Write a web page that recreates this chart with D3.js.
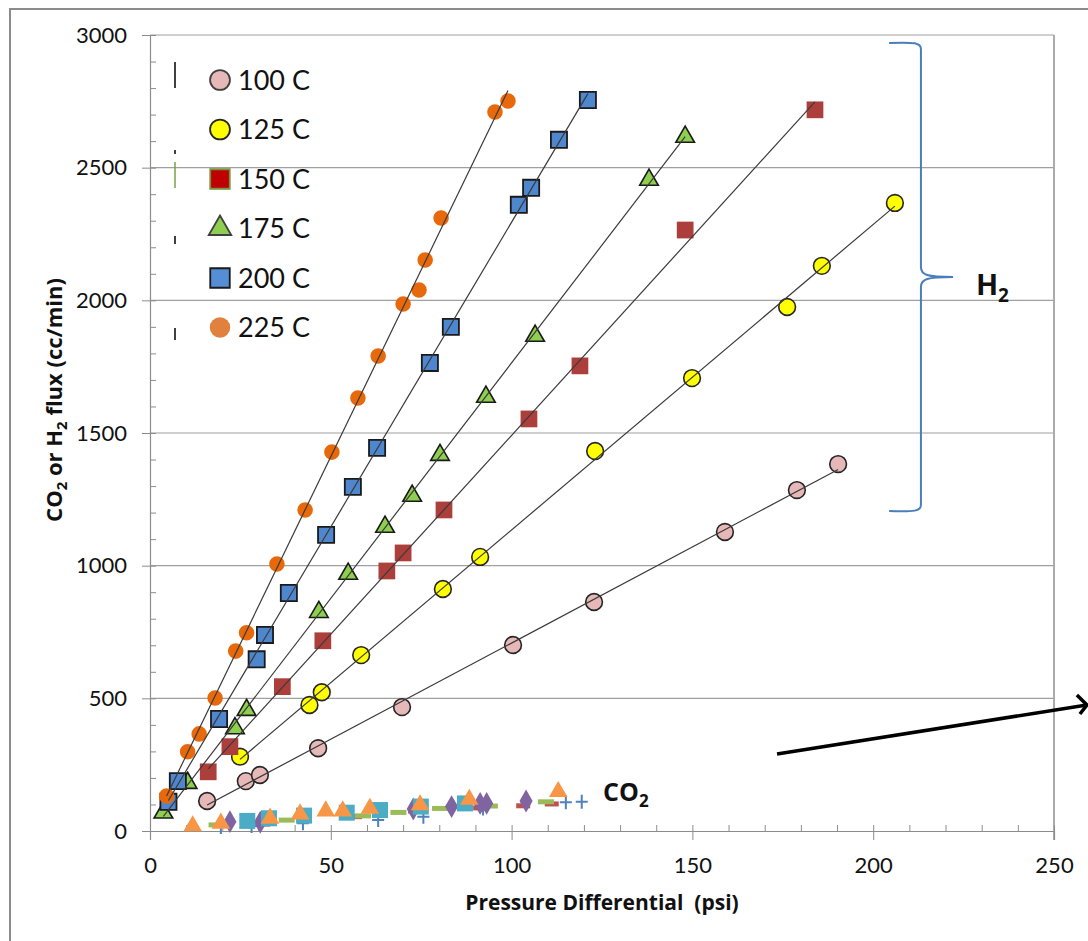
<!DOCTYPE html>
<html>
<head>
<meta charset="utf-8">
<script src="https://cdn.jsdelivr.net/npm/d3@7"></script>
<style>
  body { margin: 0; background: #fff; }
  text { font-family: Lato, "Open Sans", sans-serif; fill: #111; }
  text.bold { font-family: "Open Sans", sans-serif; font-weight: bold; }
</style>
</head>
<body>
<svg id="chart"></svg>
<script>
// H2 flux series (x = pressure differential psi, y = flux cc/min)
let labels = ["100 C", "125 C", "150 C", "175 C", "200 C", "225 C"];

let x100 = [15.8, 26.5, 30.4, 46.5, 69.7, 100.4, 122.8, 159.0, 178.9, 190.3];
let y100 = [113, 188, 211, 312, 467, 701, 863, 1127, 1285, 1383];

let x125 = [24.9, 44.1, 47.5, 58.4, 81.0, 91.3, 123.1, 149.9, 176.2, 185.8, 206.0];
let y125 = [280, 475, 523, 663, 912, 1033, 1432, 1707, 1975, 2130, 2367];

let x150 = [16.1, 22.1, 36.6, 47.8, 65.5, 70.0, 81.3, 104.8, 118.9, 148.0, 183.9];
let y150 = [223, 318, 544, 717, 980, 1048, 1210, 1553, 1753, 2265, 2718];

let x175 = [3.7, 10.4, 23.5, 26.7, 46.7, 54.8, 65.0, 72.5, 80.2, 92.9, 106.5, 138.0, 148.0];
let y175 = [69, 181, 387, 456, 825, 969, 1146, 1263, 1417, 1636, 1866, 2454, 2616];

let x200 = [5.1, 7.7, 19.1, 29.5, 31.8, 38.4, 48.7, 56.1, 62.8, 77.4, 83.2, 102.0, 105.4, 113.1, 121.1];
let y200 = [110, 188, 422, 647, 739, 897, 1116, 1297, 1444, 1764, 1900, 2360, 2424, 2605, 2755];

let x225 = [4.6, 10.4, 13.6, 18.0, 23.7, 26.7, 35.1, 42.9, 50.3, 57.5, 63.1, 70.0, 74.4, 76.1, 80.5, 95.4, 99.0];
let y225 = [132, 299, 366, 501, 678, 747, 1006, 1210, 1428, 1632, 1790, 1986, 2039, 2152, 2310, 2710, 2751];

// CO2 flux series (unlabelled markers near the bottom)
let co2TriX = [11.8, 19.6, 33.2, 41.5, 48.6, 53.3, 60.8, 74.7, 88.3, 112.9];
let co2TriY = [19, 29, 48, 64, 75, 75, 85, 98, 119, 148];
let co2SqX = [26.9, 32.9, 42.6, 54.4, 63.6, 74.9, 87.1];
let co2SqY = [38, 48, 58, 69, 79, 92, 104];
let co2DiaX = [22.1, 30.5, 72.8, 83.4, 91.3, 93.1, 104.0];
let co2DiaY = [35, 33, 83, 92, 104, 104, 113];
let co2DashX = [18.4, 37.8, 58.9, 68.7, 80.2, 94.0, 109.5];
let co2DashY = [23, 41, 57, 70, 85, 94, 110];
let co2RedX = [31.3, 56.7, 73.3, 91.3, 103.2, 111.1];
let co2RedY = [26, 54, 75, 87, 95, 102];
let co2PlusX = [19.6, 28.1, 42.3, 63.1, 75.6, 92.1, 115.0, 119.4];
let co2PlusY = [15, 19, 29, 41, 54, 85, 108, 110];

let xTicks = [0, 50, 100, 150, 200, 250];
let yTicks = [0, 500, 1000, 1500, 2000, 2500, 3000];

let W = 1088, H = 941;
let svg = d3.select("#chart").attr("width", W).attr("height", H);

let x = d3.scaleLinear().domain([0, 250]).range([150, 1054]);
let y = d3.scaleLinear().domain([0, 3000]).range([831, 35]);

// outer frame
svg.append("path")
  .attr("d", "M10," + (H + 5) + "V9H" + (W + 5))
  .attr("fill", "none").attr("stroke", "#8c8c8c").attr("stroke-width", 2);

// gridlines
svg.append("g").selectAll("line")
  .data(yTicks.filter(d => d > 0))
  .enter().append("line")
  .attr("x1", x(0)).attr("x2", x(250))
  .attr("y1", d => y(d)).attr("y2", d => y(d))
  .attr("stroke", "#a0a0a0").attr("stroke-width", 1.2);

// right border of plot
svg.append("line")
  .attr("x1", x(250)).attr("x2", x(250)).attr("y1", y(3000)).attr("y2", y(0) + 9)
  .attr("stroke", "#ababab").attr("stroke-width", 2);

// x axis: major ticks outside, minor ticks inside
let xAxis = svg.append("g").attr("transform", "translate(0," + y(0) + ")")
  .call(d3.axisBottom(x).tickValues(xTicks).tickSize(9).tickPadding(17));
xAxis.select(".domain").attr("stroke", "#8c8c8c").attr("stroke-width", 1.2);
xAxis.selectAll(".tick line").attr("stroke", "#8c8c8c");
xAxis.selectAll("text").attr("font-size", 22).attr("font-family", "Lato").attr("fill", "#111");
svg.append("g").attr("transform", "translate(0," + y(0) + ")")
  .call(d3.axisBottom(x).tickValues(d3.range(0, 251, 10)).tickSize(-6).tickFormat(""))
  .call(g => g.select(".domain").remove())
  .selectAll(".tick line").attr("stroke", "#8c8c8c");

// y axis
let yAxis = svg.append("g").attr("transform", "translate(" + x(0) + ",0)")
  .call(d3.axisLeft(y).tickValues(yTicks).tickFormat(d3.format("d")).tickSize(8).tickPadding(15));
yAxis.select(".domain").attr("stroke", "#8c8c8c").attr("stroke-width", 1.2);
yAxis.selectAll(".tick line").attr("stroke", "#8c8c8c");
yAxis.selectAll("text").attr("font-size", 22).attr("font-family", "Lato").attr("fill", "#111");
svg.append("g").attr("transform", "translate(" + x(0) + ",0)")
  .call(d3.axisLeft(y).tickValues(d3.range(0, 3001, 100)).tickSize(-6).tickFormat(""))
  .call(g => g.select(".domain").remove())
  .selectAll(".tick line").attr("stroke", "#8c8c8c");

// axis titles
svg.append("text").attr("class", "bold")
  .attr("x", 602).attr("y", 910)
  .attr("text-anchor", "middle").attr("font-size", 21)
  .text("Pressure Differential\u00a0 (psi)");

let yt = svg.append("text").attr("class", "bold")
  .attr("transform", "translate(62,400) rotate(-90)")
  .attr("text-anchor", "middle").attr("font-size", 22);
yt.append("tspan").text("CO");
yt.append("tspan").attr("font-size", 15).attr("dy", 5).text("2");
yt.append("tspan").attr("dy", -5).text(" or H");
yt.append("tspan").attr("font-size", 15).attr("dy", 5).text("2");
yt.append("tspan").attr("dy", -5).text(" flux (cc/min)");

// symbol generators
let sym = (type, size) => d3.symbol().type(type).size(size)();
let plusPath = "M-6,0H6M0,-7V7";

function drawMarks(xs, ys, path, fill, stroke, sw) {
  svg.append("g").selectAll("path")
    .data(d3.zip(xs, ys))
    .enter().append("path")
    .attr("transform", d => "translate(" + x(d[0]) + "," + y(d[1]) + ")")
    .attr("d", path)
    .attr("fill", fill)
    .attr("stroke", stroke)
    .attr("stroke-width", sw);
}

// CO2 markers
drawMarks(co2PlusX, co2PlusY, plusPath, "none", "#4f81bd", 2);
drawMarks(co2RedX, co2RedY, "M-7,-2.5H7V2.5H-7Z", "#c0504d", "none", 0);
drawMarks(co2DashX, co2DashY, "M-8,-2.5H8V2.5H-8Z", "#9bbb59", "none", 0);
drawMarks(co2DiaX, co2DiaY, sym(d3.symbolDiamond, 150), "#8064a2", "none", 0);
drawMarks(co2SqX, co2SqY, "M-8,-8H8V8H-8Z", "#4bacc6", "none", 0);
drawMarks(co2TriX, co2TriY, sym(d3.symbolTriangle, 150), "#f79646", "none", 0);

// H2 series
let h2 = [
  { xs: x100, ys: y100, path: sym(d3.symbolCircle, 220), fill: "#e6b9b8", stroke: "#262626", sw: 1.6 },
  { xs: x125, ys: y125, path: sym(d3.symbolCircle, 220), fill: "#ffff00", stroke: "#262626", sw: 1.6 },
  { xs: x150, ys: y150, path: sym(d3.symbolSquare, 280), fill: "#ac3f3c", stroke: "none", sw: 0 },
  { xs: x175, ys: y175, path: sym(d3.symbolTriangle, 150), fill: "#8fcf50", stroke: "#1a1a1a", sw: 1.6 },
  { xs: x200, ys: y200, path: sym(d3.symbolSquare, 260), fill: "#4f87cf", stroke: "#1a1a1a", sw: 1.8 },
  { xs: x225, ys: y225, path: sym(d3.symbolCircle, 190), fill: "#e8690b", stroke: "none", sw: 0 }
];
h2.forEach(s => drawMarks(s.xs, s.ys, s.path, s.fill, s.stroke, s.sw));

// linear trendlines, drawn over the markers
h2.forEach(s => {
  let mx = d3.mean(s.xs), my = d3.mean(s.ys);
  let b = d3.sum(s.xs, (v, i) => (v - mx) * (s.ys[i] - my)) / d3.sum(s.xs, v => (v - mx) * (v - mx));
  let a = my - b * mx;
  let x0 = d3.min(s.xs), x1 = d3.max(s.xs);
  svg.append("line")
    .attr("x1", x(x0)).attr("y1", y(a + b * x0))
    .attr("x2", x(x1)).attr("y2", y(a + b * x1))
    .attr("stroke", "#3a3a3a").attr("stroke-width", 1.2);
});

// legend
let legFill = ["#e6b9b8", "#ffff00", "#c00000", "#8fcf50", "#558ed5", "#e0823d"];
let legStroke = ["#404040", "#262626", "#77933c", "#404040", "#1a1a1a", "none"];
let legPath = [sym(d3.symbolCircle, 310), sym(d3.symbolCircle, 310), sym(d3.symbolSquare, 380),
               sym(d3.symbolTriangle, 220), sym(d3.symbolSquare, 380), sym(d3.symbolCircle, 330)];
let leg = svg.append("g").selectAll("g")
  .data(labels).enter().append("g")
  .attr("transform", (d, i) => "translate(220," + (80 + i * 49.5) + ")");
leg.append("path")
  .attr("d", (d, i) => legPath[i])
  .attr("fill", (d, i) => legFill[i])
  .attr("stroke", (d, i) => legStroke[i]).attr("stroke-width", 1.8);
leg.append("text")
  .attr("x", 18).attr("dy", "0.36em").attr("font-size", 27)
  .text(d => d);

// clipped legend line samples
let stubs = [[62, 88, "#000"], [150, 154, "#000"], [162, 188, "#77a34a"], [236, 244, "#000"], [328, 340, "#000"]];
svg.append("g").selectAll("line").data(stubs).enter().append("line")
  .attr("x1", 175).attr("x2", 175).attr("y1", d => d[0]).attr("y2", d => d[1])
  .attr("stroke", d => d[2]).attr("stroke-width", 1.5);

// H2 bracket
let bx = x(213.2), bl = x(204.4), bp = x(222.1);
let bt = y(2970), bm = y(2088), bb = y(1206);
svg.append("path")
  .attr("d", "M" + bl + "," + bt + "C" + (bx - 6) + "," + (bt - 1) + " " + bx + "," + (bt) + " " + bx + "," + (bt + 6) +
    "V" + (bm - 10) + "C" + bx + "," + (bm - 2) + " " + (bx + 6) + "," + bm + " " + bp + "," + bm +
    "C" + (bx + 6) + "," + bm + " " + bx + "," + (bm + 2) + " " + bx + "," + (bm + 10) +
    "V" + (bb - 6) + "C" + bx + "," + bb + " " + (bx - 6) + "," + (bb + 1) + " " + bl + "," + bb)
  .attr("fill", "none").attr("stroke", "#4a7ebb").attr("stroke-width", 2);

let h2t = svg.append("text").attr("class", "bold").attr("x", x(228.4)).attr("y", y(2020))
  .attr("font-size", 29);
h2t.append("tspan").text("H");
h2t.append("tspan").attr("font-size", 19).attr("dy", 7).text("2");

// CO2 label
let co2t = svg.append("text").attr("class", "bold").attr("x", x(125.3)).attr("y", y(113))
  .attr("font-size", 25);
co2t.append("tspan").text("CO");
co2t.append("tspan").attr("font-size", 17).attr("dy", 6).text("2");

// arrow
let ax0 = x(173.4), ay0 = y(290), ax1 = x(259.1), ay1 = y(475);
svg.append("line").attr("x1", ax0).attr("y1", ay0).attr("x2", ax1).attr("y2", ay1)
  .attr("stroke", "#000").attr("stroke-width", 3.5);
svg.append("path")
  .attr("d", "M" + (ax1 - 10) + "," + (ay1 - 10) + "L" + ax1 + "," + ay1 + "L" + (ax1 - 7) + "," + (ay1 + 9))
  .attr("fill", "none").attr("stroke", "#000").attr("stroke-width", 3.5);
</script>
</body>
</html>
